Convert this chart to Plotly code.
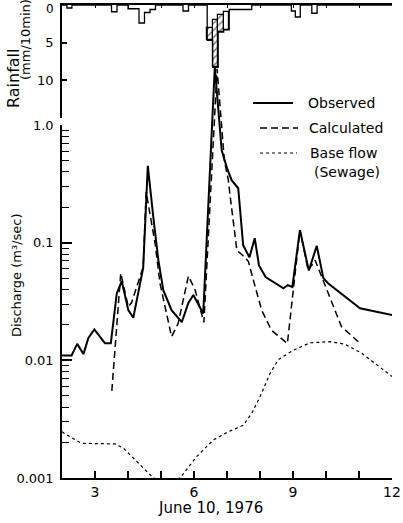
import plotly.graph_objects as go

# ---- discharge series (hour of day, m3/s) ----
t_obs = [2.0, 2.29, 2.46, 2.65, 2.80, 2.98, 3.30, 3.48, 3.66, 3.81, 4.01, 4.16,
         4.46, 4.60, 4.77, 4.92, 5.07, 5.32, 5.63, 5.83, 5.98, 6.18, 6.28, 6.63,
         6.84, 7.00, 7.14, 7.34, 7.49, 7.68, 7.84, 7.97, 8.17, 8.71, 8.84, 8.98,
         9.21, 9.48, 9.72, 9.92, 10.07, 11.03, 12.0]
q_obs = [0.011, 0.011, 0.0138, 0.0113, 0.0155, 0.0183, 0.014, 0.014, 0.037, 0.047, 0.0267, 0.023,
         0.061, 0.45, 0.162, 0.071, 0.0395, 0.0267, 0.0211, 0.0307, 0.0359, 0.028, 0.025, 3.1,
         0.61, 0.43, 0.34, 0.29, 0.095, 0.075, 0.109, 0.064, 0.051, 0.041, 0.0436, 0.042,
         0.128, 0.058, 0.094, 0.05, 0.045, 0.0277, 0.0243]

t_calc = [3.51, 3.78, 4.01, 4.11, 4.46, 4.55, 4.82, 4.97, 5.32, 5.52, 5.83, 6.03,
          6.30, 6.70, 6.92, 7.04, 7.11, 7.30, 7.52, 7.65, 7.80, 8.05, 8.35, 8.83,
          9.21, 9.46, 9.67, 10.02, 10.47, 10.98]
q_calc = [0.0055, 0.055, 0.0285, 0.031, 0.062, 0.27, 0.099, 0.045, 0.0159, 0.0206, 0.052, 0.04,
          0.021, 3.0, 0.5, 0.34, 0.23, 0.086, 0.076, 0.069, 0.048, 0.0267, 0.018, 0.0139,
          0.128, 0.058, 0.071, 0.04, 0.0193, 0.0144]

t_base = [2.0, 2.24, 2.6, 3.6, 3.86, 4.16, 4.46, 4.77, 5.1, 5.58, 6.08, 6.58, 7.04,
          7.49, 7.75, 8.0, 8.3, 8.55, 9.01, 9.52, 10.12, 10.58, 11.08, 12.0]
q_base = [0.00247, 0.00224, 0.00197, 0.00195, 0.00179, 0.00147, 0.00121, 0.001, 0.00095, 0.001,
          0.00152, 0.0021, 0.00247, 0.0028, 0.00355, 0.0049, 0.0077, 0.0101, 0.0122, 0.0141,
          0.0144, 0.0137, 0.0115, 0.0073]

# ---- rainfall, 10-minute blocks (start h, end h, mm/10min) ----
rain_start = [2.15, 3.50, 4.00, 4.333, 4.50, 4.667, 5.667, 6.40, 6.567, 6.733, 6.90, 7.067, 8.95, 9.07, 9.57]
rain_end = [2.30, 3.667, 4.333, 4.50, 4.667, 4.833, 5.833, 6.567, 6.733, 6.90, 7.067, 7.75, 9.07, 9.22, 9.73]
rain_obs = [0.4, 0.9, 0.5, 2.4, 1.0, 0.6, 0.8, 4.7, 8.3, 3.6, 3.3, 0.6, 0.8, 1.6, 1.1]

# rainfall excess blocks during the main storm (loss depth -> total depth)
ex_start = [6.40, 6.567, 6.733, 6.90]
ex_end = [6.567, 6.733, 6.90, 7.067]
ex_loss = [3.1, 2.0, 1.3, 0.9]
ex_total = [4.7, 8.3, 3.6, 3.3]
ex_hatch = ["/", "/", "/", ""]

x_ticks = [3, 6, 9, 12]
x_minor = [4, 5, 7, 8, 10, 11]
q_ticks = [0.001, 0.01, 0.1, 1.0]
q_ticktext = ["0.001", "0.01", "0.1", "1.0"]
r_ticks = [0, 5, 10]

W, H = 403, 523
FONT = "DejaVu Sans"


def px(x, y):
    return x / W, 1 - y / H


# step outline of the hyetograph hanging from the top line
step_x, step_y = [2.0], [0.0]
prev_end = 2.0
for s, e, d in zip(rain_start, rain_end, rain_obs):
    if s > prev_end + 1e-6:
        step_x += [prev_end, s, s]
        step_y += [0.0, 0.0, d]
    else:
        step_x += [s]
        step_y += [d]
    step_x += [e]
    step_y += [d]
    prev_end = e
step_x += [prev_end, 12.0]
step_y += [0.0, 0.0]

fig = go.Figure()

fig.add_trace(go.Scatter(x=t_base, y=q_base, mode="lines", xaxis="x", yaxis="y",
                         line=dict(color="black", width=1.2, dash="dot"), hoverinfo="skip"))
fig.add_trace(go.Scatter(x=t_calc, y=q_calc, mode="lines", xaxis="x", yaxis="y",
                         line=dict(color="black", width=1.5, dash="7px,4px"), hoverinfo="skip"))
fig.add_trace(go.Scatter(x=t_obs, y=q_obs, mode="lines", xaxis="x", yaxis="y",
                         line=dict(color="black", width=2), hoverinfo="skip"))
# carrier for the visible discharge scale
fig.add_trace(go.Scatter(x=[None], y=[None], mode="lines", xaxis="x", yaxis="y3", hoverinfo="skip"))

# hyetograph
fig.add_trace(go.Scatter(x=step_x, y=step_y, mode="lines", xaxis="x2", yaxis="y2",
                         line=dict(color="black", width=1.3), hoverinfo="skip"))
fig.add_trace(go.Bar(
    x=[(s + e) / 2 for s, e in zip(ex_start, ex_end)],
    width=[e - s for s, e in zip(ex_start, ex_end)],
    base=ex_loss,
    y=[t - l for t, l in zip(ex_total, ex_loss)],
    xaxis="x2", yaxis="y2",
    marker=dict(color="white", line=dict(color="black", width=1.2),
                pattern=dict(shape=ex_hatch, fgcolor="black", bgcolor="white", size=5, solidity=0.3)),
    hoverinfo="skip"))

x_dom = [62 / W, 392 / W]
tickfont = dict(family=FONT, size=13, color="black")

fig.update_layout(
    width=W, height=H, margin=dict(l=0, r=0, t=0, b=0, autoexpand=False),
    paper_bgcolor="white", plot_bgcolor="rgba(0,0,0,0)",
    showlegend=False, bargap=0,
    xaxis=dict(domain=x_dom, range=[2, 12], anchor="y3", showline=True, linecolor="black",
               linewidth=1.5, ticks="inside", ticklen=7, tickwidth=1.5, tickcolor="black",
               tickvals=x_ticks, ticktext=[str(v) for v in x_ticks],
               tickfont=dict(family=FONT, size=14, color="black"),
               minor=dict(tickvals=x_minor, ticks="inside", ticklen=7, tickwidth=1.5,
                          tickcolor="black", showgrid=False),
               showgrid=False, zeroline=False, automargin=False),
    yaxis=dict(domain=[45 / H, 1.0], type="log", range=[-3, 1.0623], visible=False,
               anchor="x", showgrid=False, zeroline=False, automargin=False),
    yaxis3=dict(domain=[45 / H, 398 / H], type="log", range=[-3, 0], anchor="x",
                showline=True, linecolor="black", linewidth=1.5,
                ticks="inside", ticklen=10, tickwidth=1.5, tickcolor="black",
                tickvals=q_ticks, ticktext=q_ticktext, tickfont=tickfont, ticklabelstandoff=4,
                minor=dict(tickvals=[m * 10 ** k for k in (-3, -2, -1) for m in range(2, 10)],
                           ticks="inside", ticklen=7, tickwidth=1.3, tickcolor="black", showgrid=False),
                showgrid=False, zeroline=False, automargin=False),
    xaxis2=dict(domain=x_dom, range=[2, 12], anchor="y2", side="top", showline=True,
                linecolor="black", linewidth=1.5, ticks="inside", ticklen=3, tickwidth=1.2,
                tickcolor="black", tickvals=list(range(2, 13)), showticklabels=False,
                showgrid=False, zeroline=False, automargin=False),
    yaxis2=dict(domain=[(H - 117.5) / H, (H - 5) / H], range=[15, 0], anchor="x2",
                showline=True, linecolor="black", linewidth=1.5, ticks="inside", ticklen=5,
                tickwidth=1.5, tickcolor="black", tickvals=r_ticks,
                ticktext=["", "5", "10"], tickfont=tickfont,
                ticklabelstandoff=4, showgrid=False, zeroline=False, automargin=False),
)

ann = []


def label(text, x, y, size=14, xanchor="left", angle=0, yanchor="middle"):
    ax, ay = px(x, y)
    ann.append(dict(text=text, x=ax, y=ay, xref="paper", yref="paper", xanchor=xanchor,
                    yanchor=yanchor, showarrow=False, textangle=angle,
                    font=dict(family=FONT, size=size, color="black")))


label("0", 56, 0, size=12, xanchor="right", yanchor="top")  # zero of the rainfall scale
label("June 10, 1976", 210, 508, size=15, xanchor="center")
label("Discharge (m³/sec)", 16, 275, size=13, xanchor="center", angle=-90)
label("Rainfall", 13, 79, size=16, xanchor="center", angle=-90)
label("(mm/10min)", 26, 40, size=13, xanchor="center", angle=-90)
label("Observed", 306, 103)
label("Calculated", 307, 128)
label("Base flow", 308, 153)
label("(Sewage)", 312, 172)

shapes = []


def sample(x0, x1, y, dash, width):
    a0, b0 = px(x0, y)
    a1, _ = px(x1, y)
    shapes.append(dict(type="line", xref="paper", yref="paper", x0=a0, x1=a1, y0=b0, y1=b0,
                       line=dict(color="black", width=width, dash=dash)))


sample(253, 293, 103, "solid", 2)
sample(260, 298, 128, "7px,4px", 1.5)
sample(260, 297, 153, "dot", 1.2)

fig.update_layout(annotations=ann, shapes=shapes)
fig.write_html("out.html")
